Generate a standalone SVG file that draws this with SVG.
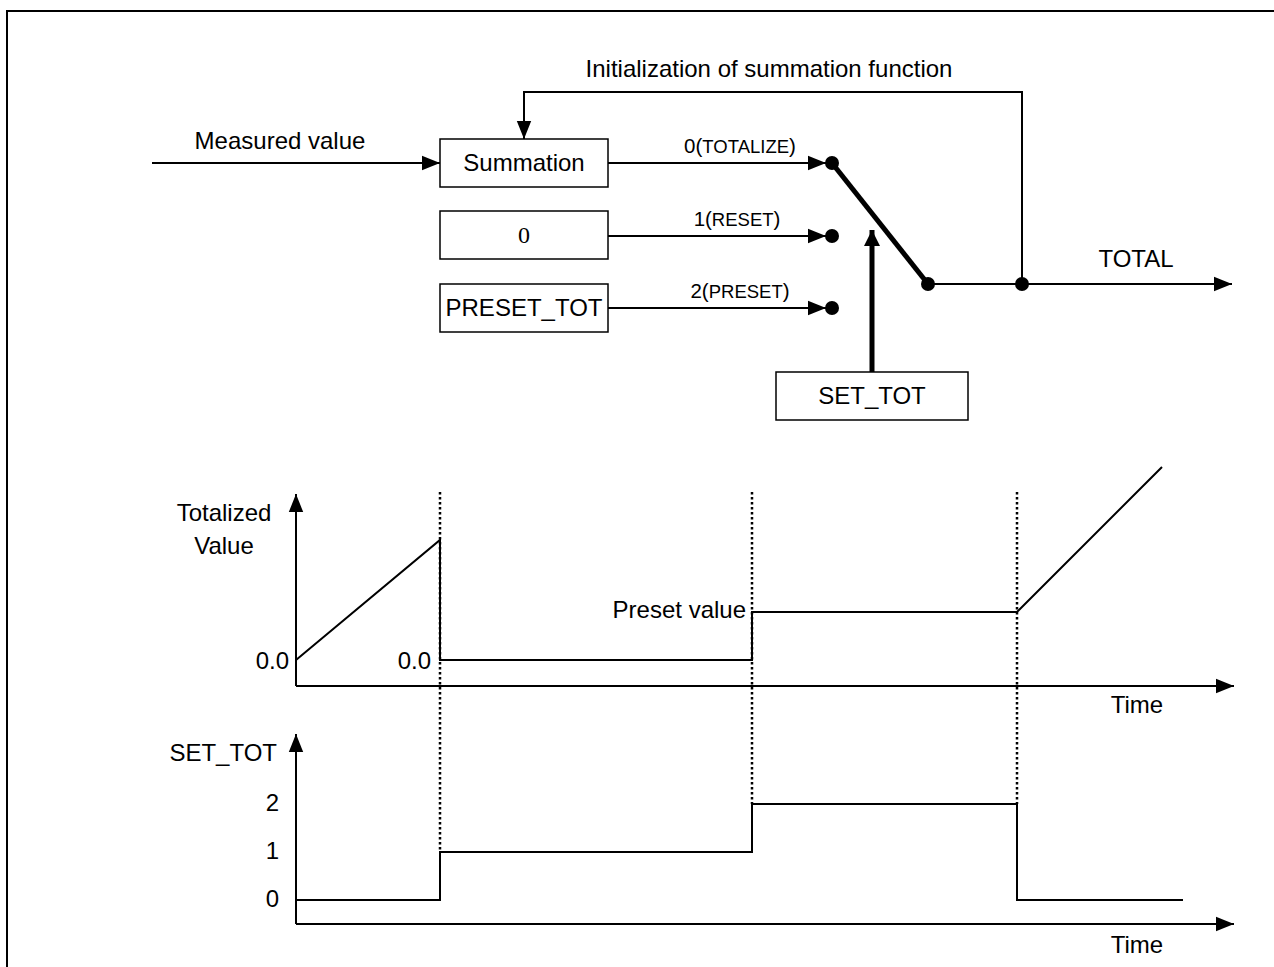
<svg xmlns="http://www.w3.org/2000/svg" width="1274" height="967" viewBox="0 0 1274 967">
<style>
text{font-family:"Liberation Sans",Arial,sans-serif;font-size:24px;fill:#000}
.l{font-size:20.5px}
.s{font-size:18.5px}
.box{fill:#fff;stroke:#000;stroke-width:1.5}
.ln{fill:none;stroke:#000;stroke-width:2}
.th{fill:none;stroke:#000;stroke-width:5}
.dot{fill:none;stroke:#000;stroke-width:2.5;stroke-dasharray:2.5 2.5}
.m{text-anchor:middle}
.e{text-anchor:end}
</style>
<defs>
<marker id="arb" viewBox="0 0 10 10" refX="10" refY="5" markerWidth="16" markerHeight="16" markerUnits="userSpaceOnUse" orient="auto"><path d="M0,0 L10,5 L0,10 z" fill="#000"/></marker>
<marker id="ar2" viewBox="0 0 10 10" refX="10" refY="5" markerWidth="18" markerHeight="18" markerUnits="userSpaceOnUse" orient="auto"><path d="M0,1 L10,5 L0,9 z" fill="#000"/></marker>
</defs>
<g id="frame"><path class="ln" d="M7,967 V11 H1274" stroke-width="2.5"/></g>
<g id="connectors">
<path class="ln" d="M152,163 H440" marker-end="url(#ar2)"/>
<path class="ln" d="M1022,284 V92 H524 V139" marker-end="url(#ar2)"/>
<path class="ln" d="M608,163 H826" marker-end="url(#ar2)"/>
<path class="ln" d="M608,236 H826" marker-end="url(#ar2)"/>
<path class="ln" d="M608,308 H826" marker-end="url(#ar2)"/>
<path class="th" d="M832,163 L928,284"/>
<path class="ln" d="M928,284 H1232" marker-end="url(#ar2)"/>
<path class="th" d="M872,372 V230" marker-end="url(#arb)"/>
<circle cx="832" cy="163" r="7"/>
<circle cx="832" cy="236" r="7"/>
<circle cx="832" cy="308" r="7"/>
<circle cx="928" cy="284" r="7"/>
<circle cx="1022" cy="284" r="7"/>
</g>
<g id="labels">
<text class="m" x="280" y="149">Measured value</text>
<text class="m" x="769" y="77">Initialization of summation function</text>
<text class="m l" x="740" y="153">0(<tspan class="s">TOTALIZE</tspan>)</text>
<text class="m l" x="737" y="226">1(<tspan class="s">RESET</tspan>)</text>
<text class="m l" x="740" y="298">2(<tspan class="s">PRESET</tspan>)</text>
<text class="m" x="1136" y="267">TOTAL</text>
</g>
<g id="summation"><rect class="box" x="440" y="139" width="168" height="48"/><text class="m" x="524" y="171">Summation</text></g>
<g id="zero"><rect class="box" x="440" y="211" width="168" height="48"/><text class="m" x="524" y="243" style="font-family:'Liberation Serif','Times New Roman',serif">0</text></g>
<g id="preset_tot"><rect class="box" x="440" y="284" width="168" height="48"/><text class="m" x="524" y="316">PRESET_TOT</text></g>
<g id="set_tot"><rect class="box" x="776" y="372" width="192" height="48"/><text class="m" x="872" y="404">SET_TOT</text></g>
<g id="chart1">
<path class="ln" d="M296,686 V494" marker-end="url(#ar2)"/>
<path class="ln" d="M296,686 H1234" marker-end="url(#ar2)"/>
<path class="ln" d="M296,660 L440,540 V660 H752 V612 H1017 L1162,467"/>
<text class="m" x="224" y="521">Totalized</text>
<text class="m" x="224" y="554">Value</text>
<text class="e" x="289" y="669">0.0</text>
<text class="e" x="431" y="669">0.0</text>
<text class="e" x="746" y="618">Preset value</text>
<text class="m" x="1137" y="713">Time</text>
</g>
<g id="chart2">
<path class="ln" d="M296,924 V734" marker-end="url(#ar2)"/>
<path class="ln" d="M296,924 H1234" marker-end="url(#ar2)"/>
<path class="ln" d="M296,900 H440 V852 H752 V804 H1017 V900 H1183"/>
<text class="e" x="277" y="761">SET_TOT</text>
<text class="e" x="279" y="811">2</text>
<text class="e" x="279" y="859">1</text>
<text class="e" x="279" y="907">0</text>
<text class="m" x="1137" y="953">Time</text>
</g>
<g id="guides">
<path class="dot" d="M440,492 V852"/>
<path class="dot" d="M752,492 V804"/>
<path class="dot" d="M1017,492 V804"/>
</g>
</svg>
